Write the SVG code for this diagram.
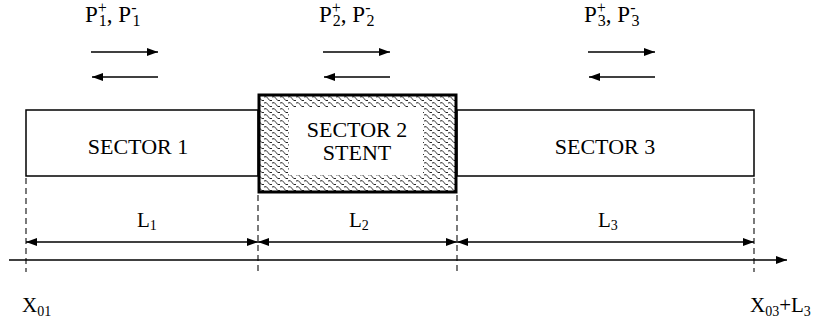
<svg xmlns="http://www.w3.org/2000/svg" width="816" height="321" viewBox="0 0 816 321">
<style>
text{font-family:"Liberation Serif","Times New Roman","DejaVu Serif",serif;fill:#000}
.lbl{font-size:23px}
.dim{font-size:21px}
.box{font-size:22px}
.sub{font-size:16px}
.sub2{font-size:14px}
.thin{stroke:#000;stroke-width:1.4;fill:none}
.dash{stroke:#333;stroke-width:1.3;stroke-dasharray:6,4;fill:none}
</style>
<defs>
<marker id="ah" viewBox="0 0 11 8" refX="11" refY="4" markerWidth="11" markerHeight="8" markerUnits="userSpaceOnUse" orient="auto-start-reverse">
<path d="M0,0 L11,4 L0,8 Z" fill="#000"/>
</marker>
<pattern id="stent" width="8" height="6" patternUnits="userSpaceOnUse">
<rect width="8" height="6" fill="#fff"/>
<path d="M0,1 Q2.5,-0.5 4,2.5 Q5.5,5.5 8,4.5" stroke="#111" stroke-width="0.9" fill="none"/>
</pattern>
</defs>
<g id="connectors">
<line class="thin" x1="91" y1="52" x2="158" y2="52" marker-end="url(#ah)"/>
<line class="thin" x1="158" y1="77" x2="92" y2="77" marker-end="url(#ah)"/>
<line class="thin" x1="323" y1="52" x2="390" y2="52" marker-end="url(#ah)"/>
<line class="thin" x1="390" y1="77" x2="324" y2="77" marker-end="url(#ah)"/>
<line class="thin" x1="588" y1="52" x2="655" y2="52" marker-end="url(#ah)"/>
<line class="thin" x1="655" y1="77" x2="589" y2="77" marker-end="url(#ah)"/>
<line class="dash" x1="26" y1="178" x2="26" y2="272"/>
<line class="dash" x1="258" y1="195" x2="258" y2="272"/>
<line class="dash" x1="457" y1="195" x2="457" y2="272"/>
<line class="dash" x1="754" y1="178" x2="754" y2="272"/>
<line class="thin" x1="26" y1="242" x2="258" y2="242" marker-start="url(#ah)" marker-end="url(#ah)"/>
<line class="thin" x1="258" y1="242" x2="457" y2="242" marker-start="url(#ah)" marker-end="url(#ah)"/>
<line class="thin" x1="457" y1="242" x2="754" y2="242" marker-start="url(#ah)" marker-end="url(#ah)"/>
<line class="thin" x1="9" y1="260" x2="787" y2="260" marker-end="url(#ah)"/>
</g>
<g id="sector1">
<rect x="26" y="110" width="232" height="66" fill="#fff" stroke="#000" stroke-width="1.5"/>
<text class="box" x="138" y="154" text-anchor="middle">SECTOR 1</text>
</g>
<g id="sector3">
<rect x="457" y="110" width="297" height="66" fill="#fff" stroke="#000" stroke-width="1.5"/>
<text class="box" x="605" y="154" text-anchor="middle">SECTOR 3</text>
</g>
<g id="sector2">
<rect x="259" y="95" width="197" height="97" fill="url(#stent)" stroke="#000" stroke-width="3"/>
<rect x="289" y="108" width="134" height="67" fill="#fff"/>
<text class="box" x="357" y="137" text-anchor="middle">SECTOR 2</text>
<text class="box" x="357" y="160" text-anchor="middle">STENT</text>
</g>
<g id="labels">
<text class="lbl" x="85" y="22">P<tspan class="sub" dy="-9">+</tspan><tspan class="sub" dx="-8" dy="13">1</tspan><tspan dy="-4">, P</tspan><tspan class="sub" dy="-9">-</tspan><tspan class="sub" dx="-4" dy="13">1</tspan></text>
<text class="lbl" x="319" y="22">P<tspan class="sub" dy="-9">+</tspan><tspan class="sub" dx="-8" dy="13">2</tspan><tspan dy="-4">, P</tspan><tspan class="sub" dy="-9">-</tspan><tspan class="sub" dx="-4" dy="13">2</tspan></text>
<text class="lbl" x="584" y="22">P<tspan class="sub" dy="-9">+</tspan><tspan class="sub" dx="-8" dy="13">3</tspan><tspan dy="-4">, P</tspan><tspan class="sub" dy="-9">-</tspan><tspan class="sub" dx="-4" dy="13">3</tspan></text>
<text class="dim" x="137" y="227">L<tspan class="sub2" dy="3">1</tspan></text>
<text class="dim" x="349" y="227">L<tspan class="sub2" dy="3">2</tspan></text>
<text class="dim" x="598" y="227">L<tspan class="sub2" dy="3">3</tspan></text>
<text class="dim" x="22" y="312">X<tspan class="sub2" dy="4">01</tspan></text>
<text class="dim" x="750" y="312">X<tspan class="sub2" dy="4">03</tspan><tspan dy="-4">+L</tspan><tspan class="sub2" dy="4">3</tspan></text>
</g>
</svg>
